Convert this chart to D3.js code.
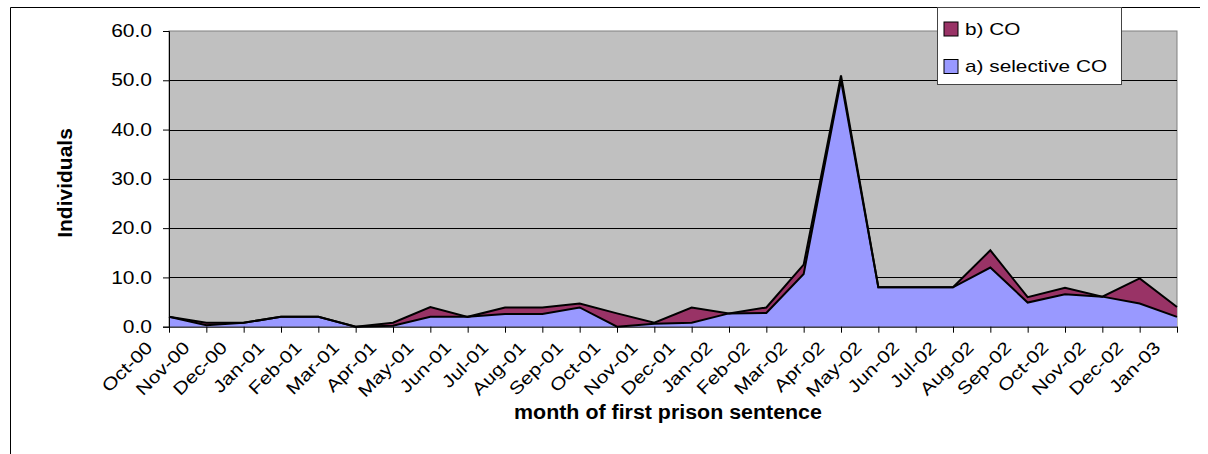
<!DOCTYPE html>
<html>
  <head>
    <meta charset="UTF-8">
    <title>month of first prison sentence</title>
    <script src="https://cdn.jsdelivr.net/npm/d3@7/dist/d3.min.js"></script>
    <style>
      body { margin: 0; background: #fff; }
      svg { display: block; font-family: "Liberation Sans", Arial, sans-serif; }
    </style>
  </head>
  <body>
    <svg width="1208" height="454"></svg>
    <script>
    // data
    var months = ["Oct-00","Nov-00","Dec-00","Jan-01","Feb-01","Mar-01","Apr-01","May-01","Jun-01","Jul-01",
                  "Aug-01","Sep-01","Oct-01","Nov-01","Dec-01","Jan-02","Feb-02","Mar-02","Apr-02","May-02",
                  "Jun-02","Jul-02","Aug-02","Sep-02","Oct-02","Nov-02","Dec-02","Jan-03"];
    var selectiveCO = [2, 0.3, 0.8, 2, 2, 0, 0.2, 2, 2, 2.6, 2.6, 3.9, 0, 0.6, 0.8, 2.7, 2.8, 10.7, 50, 8,
                       8, 8, 12, 4.9, 6.6, 6.1, 4.7, 2];
    var CO = [0, 0.5, 0, 0, 0, 0, 0.6, 2, 0, 1.3, 1.3, 0.8, 2.7, 0.2, 3.1, 0, 1.1, 1.9, 1, 0,
              0, 0, 3.5, 1.1, 1.3, 0, 5.1, 2];
    var yTicks = [0, 10, 20, 30, 40, 50, 60];

    var svg = d3.select("svg");
    var plot = {left: 169, right: 1177, top: 31, bottom: 326.7};
    var stretch = "scale(1.2,1)";   // the old chart's text is drawn a bit wide

    // chart border (only left and top show in the picture)
    svg.append("path")
      .attr("d", "M10.5,460V7.5H1200")
      .attr("fill", "none")
      .attr("stroke", "#000")
      .attr("stroke-width", 1);

    var x = d3.scalePoint().domain(months).range([plot.left, plot.right]).padding(0);
    var y = d3.scaleLinear().domain([0, 60]).range([plot.bottom, plot.top]);

    // plot area
    svg.append("rect")
      .attr("x", plot.left).attr("y", plot.top)
      .attr("width", plot.right - plot.left).attr("height", plot.bottom - plot.top)
      .attr("fill", "#c0c0c0")
      .attr("stroke", "#808080")
      .attr("stroke-width", 1);

    // gridlines
    svg.append("g")
      .selectAll("line")
      .data(yTicks.filter(function(d){ return d > 0 && d < 60; }))
      .enter()
      .append("line")
      .attr("x1", plot.left).attr("x2", plot.right)
      .attr("y1", function(d){ return Math.round(y(d)) + 0.5; })
      .attr("y2", function(d){ return Math.round(y(d)) + 0.5; })
      .attr("stroke", "#000")
      .attr("stroke-width", 1);

    // stacked areas
    var table = months.map(function(m, i){
      return {month: m, a: selectiveCO[i], b: CO[i]};
    });
    var series = d3.stack().keys(["a", "b"])(table);
    var colors = {a: "#9999ff", b: "#993366"};

    var area = d3.area()
      .x(function(d){ return x(d.data.month); })
      .y0(function(d){ return y(d[0]); })
      .y1(function(d){ return y(d[1]); });
    var topLine = d3.line()
      .x(function(d){ return x(d.data.month); })
      .y(function(d){ return y(d[1]); });

    svg.append("g")
      .selectAll("path")
      .data(series)
      .enter()
      .append("path")
      .attr("d", area)
      .attr("fill", function(d){ return colors[d.key]; });

    svg.append("g")
      .selectAll("path")
      .data(series)
      .enter()
      .append("path")
      .attr("d", topLine)
      .attr("fill", "none")
      .attr("stroke", "#000")
      .attr("stroke-width", 2)
      .attr("stroke-linejoin", "miter");

    // y axis
    var yAxis = svg.append("g")
      .attr("transform", "translate(" + plot.left + ",0)")
      .call(d3.axisLeft(y).tickValues(yTicks).tickSize(6)
        .tickFormat(d3.format(".1f")));
    yAxis.selectAll("text")
      .attr("font-size", 17.5).attr("fill", "#000")
      .attr("font-family", "Liberation Sans, Arial, sans-serif")
      .attr("x", 0)
      .attr("transform", "translate(-17,0) " + stretch);
    yAxis.selectAll("line").attr("stroke", "#000");
    yAxis.select(".domain").attr("stroke", "#000");

    // x axis
    var xAxis = svg.append("g")
      .attr("transform", "translate(0," + plot.bottom + ")")
      .call(d3.axisBottom(x).tickSize(6).tickSizeOuter(0));
    xAxis.select(".domain").attr("stroke", "#000");
    xAxis.selectAll("line").attr("stroke", "#000");
    xAxis.selectAll("text")
      .attr("font-size", 17.5)
      .attr("fill", "#000")
      .attr("font-family", "Liberation Sans, Arial, sans-serif")
      .attr("text-anchor", "end")
      .attr("dy", null)
      .attr("y", 0)
      .attr("transform", "translate(-16,22) rotate(-45) " + stretch);

    // axis titles
    svg.append("text")
      .attr("transform", "translate(72,183) rotate(-90)")
      .attr("text-anchor", "middle")
      .attr("font-size", 21)
      .attr("font-weight", "bold")
      .text("Individuals");

    svg.append("text")
      .attr("transform", "translate(668,419) scale(1.07,1)")
      .attr("text-anchor", "middle")
      .attr("font-size", 20)
      .attr("font-weight", "bold")
      .text("month of first prison sentence");

    // legend
    var legendItems = [{key: "b", label: "b) CO"}, {key: "a", label: "a) selective CO"}];
    var legend = svg.append("g");
    legend.append("rect")
      .attr("x", 937.5).attr("y", 7.5).attr("width", 184).attr("height", 77)
      .attr("fill", "#fff").attr("stroke", "#444").attr("stroke-width", 1);
    var li = legend.selectAll("g")
      .data(legendItems)
      .enter()
      .append("g")
      .attr("transform", function(d, i){ return "translate(944," + (22 + i * 37.5) + ")"; });
    li.append("rect")
      .attr("width", 14).attr("height", 14)
      .attr("fill", function(d){ return colors[d.key]; })
      .attr("stroke", "#000").attr("stroke-width", 1);
    li.append("text")
      .attr("transform", "translate(21,12.5) scale(1.3,1)")
      .attr("font-size", 16)
      .text(function(d){ return d.label; });
    </script>
  </body>
</html>
